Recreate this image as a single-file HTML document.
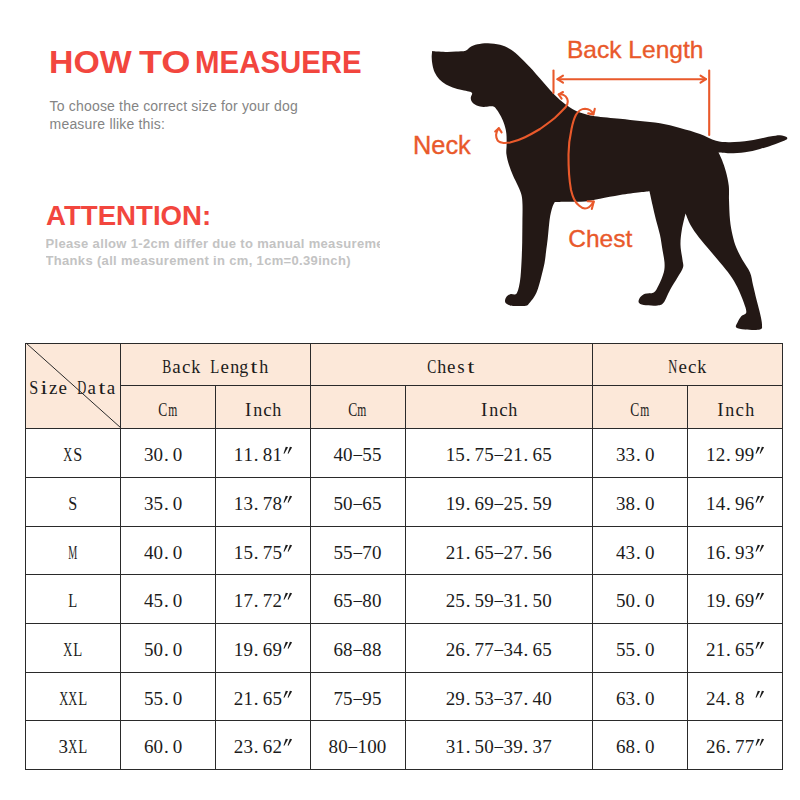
<!DOCTYPE html>
<html>
<head>
<meta charset="utf-8">
<title>How to measure - size chart</title>
<style>
html,body{margin:0;padding:0;background:#fff;}
body{width:800px;height:800px;position:relative;overflow:hidden;font-family:"Liberation Sans",sans-serif;}
.abs{position:absolute;white-space:nowrap;transform-origin:0 0;}
#t1{left:0;top:41.6px;font-size:31.5px;line-height:40px;font-weight:bold;color:#f2463e;}
#t1 span{position:absolute;top:0;transform-origin:0 0;}
#t2{left:49.6px;top:98.4px;font-size:14px;line-height:17.3px;color:#848484;letter-spacing:0.18px;}
#t3{left:46.4px;top:200.4px;font-size:27.3px;line-height:32px;font-weight:bold;color:#f2463e;transform:scaleX(1.012);}
#t4{left:45.5px;top:234.75px;font-size:13px;line-height:17.5px;font-weight:bold;color:#c3c3c3;width:334px;overflow:hidden;letter-spacing:0.33px;}
.lbl{color:#e9592b;-webkit-text-stroke:0.35px #e9592b;}
#dog{position:absolute;left:0;top:0;}
/* table */
.hf{position:absolute;background:#fce8d9;}
.hl{position:absolute;height:1px;background:#2a2a2a;}
.vl{position:absolute;width:1px;background:#2a2a2a;}
.diag{position:absolute;overflow:visible;}
.t{position:absolute;height:22px;line-height:22px;font-family:"Liberation Serif",serif;font-size:19px;color:#1c1c1c;white-space:nowrap;}
.c{display:inline-flex;justify-content:center;width:9.67px;font-style:normal;}
.q{height:22px;vertical-align:top;}
.p{justify-content:flex-start;padding-left:0.8px;width:8.87px;}
</style>
</head>
<body>
<div id="t1" class="abs"><span style="left:49px;transform:scaleX(1.073)">HOW</span><span style="left:139px;transform:scaleX(1.193)">TO</span><span style="left:195px;transform:scaleX(0.934)">MEASUERE</span></div>
<div id="t2" class="abs">To choose the correct size for your dog<br>measure llike this:</div>
<div id="t3" class="abs">ATTENTION:</div>
<div id="t4" class="abs">Please allow 1-2cm differ due to manual measurement<br>Thanks (all measurement in cm, 1cm=0.39inch)</div>

<svg id="dog" width="800" height="340" viewBox="0 0 800 340">
<path d="M432.20,50.90 C432.20,50.90 436.45,51.40 439.00,51.60 C441.55,51.80 444.67,52.10 447.50,52.10 C450.33,52.10 453.00,51.83 456.00,51.60 C459.00,51.38 463.17,51.48 465.50,50.75 C467.83,50.02 468.00,48.28 470.00,47.20 C472.00,46.12 474.50,44.96 477.50,44.30 C480.50,43.64 484.25,43.17 488.00,43.25 C491.75,43.33 496.50,43.88 500.00,44.75 C503.50,45.62 506.00,46.75 509.00,48.50 C512.00,50.25 514.50,52.12 518.00,55.25 C521.50,58.38 526.33,63.38 530.00,67.25 C533.67,71.12 536.67,74.71 540.00,78.50 C543.33,82.29 546.67,86.42 550.00,90.00 C553.33,93.58 556.67,97.08 560.00,100.00 C563.33,102.92 566.67,105.42 570.00,107.50 C573.33,109.58 575.83,111.04 580.00,112.50 C584.17,113.96 588.33,115.21 595.00,116.25 C601.67,117.29 612.50,117.96 620.00,118.75 C627.50,119.54 633.33,120.24 640.00,121.00 C646.67,121.76 653.33,122.13 660.00,123.30 C666.67,124.47 673.33,126.22 680.00,128.00 C686.67,129.78 694.00,131.87 700.00,134.00 C706.00,136.13 711.00,139.43 716.00,140.80 C721.00,142.17 724.33,142.23 730.00,142.20 C735.67,142.17 743.33,141.53 750.00,140.60 C756.67,139.67 765.00,137.50 770.00,136.60 C775.00,135.70 777.25,135.13 780.00,135.20 C782.75,135.27 785.50,136.23 786.50,137.00 C787.50,137.77 787.92,138.60 786.00,139.80 C784.08,141.00 779.33,142.67 775.00,144.20 C770.67,145.73 765.00,147.65 760.00,149.00 C755.00,150.35 750.00,151.58 745.00,152.30 C740.00,153.02 734.42,153.25 730.00,153.30 C725.58,153.35 718.50,152.60 718.50,152.60 C718.50,152.60 720.75,156.77 722.00,160.00 C723.25,163.23 724.87,167.67 726.00,172.00 C727.13,176.33 728.30,181.33 728.80,186.00 C729.30,190.67 728.80,194.33 729.00,200.00 C729.20,205.67 729.42,214.17 730.00,220.00 C730.58,225.83 731.46,230.42 732.50,235.00 C733.54,239.58 734.58,243.33 736.25,247.50 C737.92,251.67 740.21,255.83 742.50,260.00 C744.79,264.17 748.25,268.33 750.00,272.50 C751.75,276.67 751.90,280.42 753.00,285.00 C754.10,289.58 755.37,295.00 756.60,300.00 C757.83,305.00 759.50,310.83 760.40,315.00 C761.30,319.17 762.07,322.58 762.00,325.00 C761.93,327.42 762.83,328.75 760.00,329.50 C757.17,330.25 748.96,329.83 745.00,329.50 C741.04,329.17 737.50,328.67 736.25,327.50 C735.00,326.33 736.67,324.38 737.50,322.50 C738.33,320.62 739.79,317.92 741.25,316.25 C742.71,314.58 745.83,314.79 746.25,312.50 C746.67,310.21 745.21,306.67 743.75,302.50 C742.29,298.33 739.79,292.08 737.50,287.50 C735.21,282.92 732.92,279.17 730.00,275.00 C727.08,270.83 723.42,266.67 720.00,262.50 C716.58,258.33 713.00,254.17 709.50,250.00 C706.00,245.83 702.17,241.67 699.00,237.50 C695.83,233.33 692.73,229.00 690.50,225.00 C688.27,221.00 685.60,213.50 685.60,213.50 C685.60,213.50 682.65,224.75 681.80,230.00 C680.95,235.25 680.38,240.00 680.50,245.00 C680.62,250.00 682.08,256.25 682.50,260.00 C682.92,263.75 683.83,264.58 683.00,267.50 C682.17,270.42 679.67,273.75 677.50,277.50 C675.33,281.25 672.29,285.83 670.00,290.00 C667.71,294.17 665.83,299.92 663.75,302.50 C661.67,305.08 660.83,305.08 657.50,305.50 C654.17,305.92 646.88,305.50 643.75,305.00 C640.62,304.50 639.38,303.75 638.75,302.50 C638.12,301.25 638.96,298.96 640.00,297.50 C641.04,296.04 642.71,294.58 645.00,293.75 C647.29,292.92 651.46,293.96 653.75,292.50 C656.04,291.04 657.08,288.33 658.75,285.00 C660.42,281.67 662.79,276.25 663.75,272.50 C664.71,268.75 664.71,266.25 664.50,262.50 C664.29,258.75 663.25,254.58 662.50,250.00 C661.75,245.42 661.08,240.00 660.00,235.00 C658.92,230.00 657.25,225.00 656.00,220.00 C654.75,215.00 653.58,209.80 652.50,205.00 C651.42,200.20 649.50,191.20 649.50,191.20 C649.50,191.20 644.92,191.67 640.00,192.30 C635.08,192.93 626.67,193.93 620.00,195.00 C613.33,196.07 605.83,197.68 600.00,198.75 C594.17,199.82 590.42,200.89 585.00,201.40 C579.58,201.91 572.53,201.70 567.50,201.80 C562.47,201.90 554.80,202.00 554.80,202.00 C554.80,202.00 553.30,204.50 552.60,206.50 C551.90,208.50 551.15,211.33 550.60,214.00 C550.05,216.67 549.78,218.37 549.30,222.50 C548.82,226.63 548.25,233.88 547.70,238.80 C547.15,243.72 546.53,247.93 546.00,252.00 C545.47,256.07 545.40,258.63 544.50,263.20 C543.60,267.77 541.82,274.80 540.60,279.40 C539.38,284.00 538.32,287.82 537.20,290.80 C536.08,293.78 535.27,295.18 533.90,297.30 C532.53,299.42 530.35,302.08 529.00,303.50 C527.65,304.92 528.13,305.38 525.80,305.80 C523.47,306.22 517.72,306.10 515.00,306.00 C512.28,305.90 511.13,305.83 509.50,305.20 C507.87,304.57 505.75,303.52 505.20,302.20 C504.65,300.88 505.35,298.63 506.20,297.30 C507.05,295.97 508.57,294.85 510.30,294.20 C512.03,293.55 514.98,295.60 516.60,293.40 C518.22,291.20 519.18,286.23 520.00,281.00 C520.82,275.77 521.13,268.42 521.50,262.00 C521.87,255.58 522.05,249.08 522.20,242.50 C522.35,235.92 522.35,228.75 522.40,222.50 C522.45,216.25 522.65,209.58 522.50,205.00 C522.35,200.42 522.25,198.17 521.50,195.00 C520.75,191.83 519.42,189.25 518.00,186.00 C516.58,182.75 514.50,179.00 513.00,175.50 C511.50,172.00 510.10,168.58 509.00,165.00 C507.90,161.42 506.80,157.33 506.40,154.00 C506.00,150.67 506.60,148.33 506.60,145.00 C506.60,141.67 506.75,137.33 506.40,134.00 C506.05,130.67 505.40,127.92 504.50,125.00 C503.60,122.08 502.25,119.00 501.00,116.50 C499.75,114.00 498.17,111.63 497.00,110.00 C495.83,108.37 495.25,107.32 494.00,106.70 C492.75,106.08 491.25,106.25 489.50,106.30 C487.75,106.35 485.62,107.13 483.50,107.00 C481.38,106.87 478.62,106.28 476.75,105.50 C474.88,104.72 473.25,103.55 472.25,102.30 C471.25,101.05 470.76,99.47 470.75,98.00 C470.74,96.53 472.32,94.55 472.20,93.50 C472.07,92.45 471.37,92.20 470.00,91.70 C468.63,91.20 466.50,91.08 464.00,90.50 C461.50,89.92 458.00,89.25 455.00,88.25 C452.00,87.25 448.62,86.00 446.00,84.50 C443.38,83.00 441.12,81.25 439.25,79.25 C437.38,77.25 435.88,74.88 434.75,72.50 C433.62,70.12 433.01,67.50 432.50,65.00 C431.99,62.50 431.75,59.85 431.70,57.50 C431.65,55.15 432.20,50.90 432.20,50.90Z" fill="#231815"/>
<g fill="none" stroke="#e9592b" stroke-width="2.1" stroke-linecap="round" stroke-linejoin="round">
<path d="M553.5,70.5V93"/>
<path d="M709.2,70.5V135"/>
<path d="M557.5,79.2H706"/>
<path d="M563,75.7L557.5,79.2L563,82.7"/>
<path d="M700.5,75.7L706,79.2L700.5,82.7"/>
<path d="M558.8,94.5C561.5,93.6 565.5,95 567.2,98.8 C568.4,102 567.4,105 565.5,107.3 C562,111 559,114 555,117.8 C550,122 545,125.5 540,129 C535,132 530,134.8 525,137.2 C520,139.6 515,141.4 510,142.5 C507,143 504.5,143.2 502.5,142.8 C499.5,142.2 497.6,141 497.2,139.5 C496.2,137.6 496,136 496.2,134.2 C496.6,132 497.6,130 498.7,128.3"/>
<path d="M495.2,131.6L498.8,128.2L501.6,132.4"/>
<path d="M563,92L558.7,94.5L561.6,98.6"/>
<path d="M593.3,114.2C592.2,111.6 589.5,109 585,108.8 C581,108.8 578,111.5 576,114.8 C574,118.5 572.5,124 571.5,129 C569.5,138 568.6,146 568.5,154.5 C568.4,168 569.2,180 571,190 C572,194 573,197 574,199 C575.5,202 577,204 579,205.5 C581,207.4 583,208.4 585,208.5 C588,208.5 591,206 593.6,201.7"/>
<path d="M587.6,201.2L593.8,201.5L591.8,209"/>
<path d="M588.2,113.4L593.4,114.4L594.8,108.8"/>
</g>

</svg>
<div id="l1" class="abs lbl" style="left:566.5px;top:34px;font-size:24px;line-height:32px;transform:scaleX(1.022)">Back Length</div>
<div id="l2" class="abs lbl" style="left:412.8px;top:128.8px;font-size:25px;line-height:32px;transform:scaleX(1.015)">Neck</div>
<div id="l3" class="abs lbl" style="left:568.2px;top:222.5px;font-size:24.5px;line-height:32px;">Chest</div>

<div class="hf" style="left:25.5px;top:343.0px;width:757.0px;height:85.0px"></div>
<div class="hl" style="left:25.0px;top:342.5px;width:758.0px"></div>
<div class="hl" style="left:120.0px;top:385.0px;width:663.0px"></div>
<div class="hl" style="left:25.0px;top:427.5px;width:758.0px"></div>
<div class="hl" style="left:25.0px;top:476.5px;width:758.0px"></div>
<div class="hl" style="left:25.0px;top:525.5px;width:758.0px"></div>
<div class="hl" style="left:25.0px;top:573.5px;width:758.0px"></div>
<div class="hl" style="left:25.0px;top:622.5px;width:758.0px"></div>
<div class="hl" style="left:25.0px;top:671.5px;width:758.0px"></div>
<div class="hl" style="left:25.0px;top:720.0px;width:758.0px"></div>
<div class="hl" style="left:25.0px;top:768.5px;width:758.0px"></div>
<div class="vl" style="left:25.0px;top:342.5px;height:427.0px"></div>
<div class="vl" style="left:120.0px;top:342.5px;height:427.0px"></div>
<div class="vl" style="left:215.0px;top:385.0px;height:384.5px"></div>
<div class="vl" style="left:309.5px;top:342.5px;height:427.0px"></div>
<div class="vl" style="left:404.5px;top:385.0px;height:384.5px"></div>
<div class="vl" style="left:592.0px;top:342.5px;height:427.0px"></div>
<div class="vl" style="left:687.0px;top:385.0px;height:384.5px"></div>
<div class="vl" style="left:782.0px;top:342.5px;height:427.0px"></div>
<svg class="diag" style="left:25.5px;top:343.0px" width="95.0" height="85.0"><line x1="0" y1="0" x2="95.0" y2="85.0" stroke="#2a2a2a" stroke-width="1"/></svg>
<div class="t" style="left:28.98px;top:377.00px;width:88.03px"><i class="c" style="transform:scaleX(0.852)">S</i><i class="c" style="transform:scaleX(1.3)">i</i><i class="c">z</i><i class="c">e</i><i class="c">&nbsp;</i><i class="c" style="transform:scaleX(0.656)">D</i><i class="c">a</i><i class="c" style="transform:scaleX(1.3)">t</i><i class="c">a</i></div>
<div class="t" style="left:162.06px;top:355.75px;width:107.37px"><i class="c" style="transform:scaleX(0.710)">B</i><i class="c">a</i><i class="c">c</i><i class="c" style="transform:scaleX(0.947)">k</i><i class="c">&nbsp;</i><i class="c" style="transform:scaleX(0.775)">L</i><i class="c">e</i><i class="c" style="transform:scaleX(0.947)">n</i><i class="c" style="transform:scaleX(0.947)">g</i><i class="c" style="transform:scaleX(1.3)">t</i><i class="c" style="transform:scaleX(0.947)">h</i></div>
<div class="t" style="left:427.07px;top:355.75px;width:49.35px"><i class="c" style="transform:scaleX(0.710)">C</i><i class="c" style="transform:scaleX(0.947)">h</i><i class="c">e</i><i class="c">s</i><i class="c" style="transform:scaleX(1.3)">t</i></div>
<div class="t" style="left:668.16px;top:355.75px;width:39.68px"><i class="c" style="transform:scaleX(0.656)">N</i><i class="c">e</i><i class="c">c</i><i class="c" style="transform:scaleX(0.947)">k</i></div>
<div class="t" style="left:158.33px;top:398.95px;width:20.34px"><i class="c" style="transform:scaleX(0.710)">C</i><i class="c" style="transform:scaleX(0.609)">m</i></div>
<div class="t" style="left:243.41px;top:398.95px;width:39.68px"><i class="c">I</i><i class="c" style="transform:scaleX(0.947)">n</i><i class="c">c</i><i class="c" style="transform:scaleX(0.947)">h</i></div>
<div class="t" style="left:347.83px;top:398.95px;width:20.34px"><i class="c" style="transform:scaleX(0.710)">C</i><i class="c" style="transform:scaleX(0.609)">m</i></div>
<div class="t" style="left:479.41px;top:398.95px;width:39.68px"><i class="c">I</i><i class="c" style="transform:scaleX(0.947)">n</i><i class="c">c</i><i class="c" style="transform:scaleX(0.947)">h</i></div>
<div class="t" style="left:630.33px;top:398.95px;width:20.34px"><i class="c" style="transform:scaleX(0.710)">C</i><i class="c" style="transform:scaleX(0.609)">m</i></div>
<div class="t" style="left:715.66px;top:398.95px;width:39.68px"><i class="c">I</i><i class="c" style="transform:scaleX(0.947)">n</i><i class="c">c</i><i class="c" style="transform:scaleX(0.947)">h</i></div>
<div class="t" style="left:63.33px;top:444.00px;width:20.34px"><i class="c" style="transform:scaleX(0.656)">X</i><i class="c" style="transform:scaleX(0.852)">S</i></div>
<div class="t" style="left:143.82px;top:444.00px;width:49.35px"><i class="c">3</i><i class="c">0</i><i class="c p">.</i><i class="c">0</i><i class="c">&nbsp;</i></div>
<div class="t" style="left:233.74px;top:444.00px;width:59.02px"><i class="c">1</i><i class="c">1</i><i class="c p">.</i><i class="c">8</i><i class="c">1</i><i class="c q"><svg width="9.67" height="22" viewBox="0 0 9.67 22"><path d="M3.8,2.7L6.1,3.3L2.3,9.7L1.5,9.4Z M7.9,2.7L10.2,3.3L6.4,9.7L5.6,9.4Z" fill="#1c1c1c"/></svg></i></div>
<div class="t" style="left:333.32px;top:444.00px;width:49.35px"><i class="c">4</i><i class="c">0</i><i class="c" style="transform:translateY(-1px) scaleX(0.9)">&#8211;</i><i class="c">5</i><i class="c">5</i></div>
<div class="t" style="left:445.56px;top:444.00px;width:107.37px"><i class="c">1</i><i class="c">5</i><i class="c p">.</i><i class="c">7</i><i class="c">5</i><i class="c" style="transform:translateY(-1px) scaleX(0.9)">&#8211;</i><i class="c">2</i><i class="c">1</i><i class="c p">.</i><i class="c">6</i><i class="c">5</i></div>
<div class="t" style="left:615.83px;top:444.00px;width:49.35px"><i class="c">3</i><i class="c">3</i><i class="c p">.</i><i class="c">0</i><i class="c">&nbsp;</i></div>
<div class="t" style="left:705.99px;top:444.00px;width:59.02px"><i class="c">1</i><i class="c">2</i><i class="c p">.</i><i class="c">9</i><i class="c">9</i><i class="c q"><svg width="9.67" height="22" viewBox="0 0 9.67 22"><path d="M3.8,2.7L6.1,3.3L2.3,9.7L1.5,9.4Z M7.9,2.7L10.2,3.3L6.4,9.7L5.6,9.4Z" fill="#1c1c1c"/></svg></i></div>
<div class="t" style="left:68.17px;top:493.00px;width:10.67px"><i class="c" style="transform:scaleX(0.852)">S</i></div>
<div class="t" style="left:143.82px;top:493.00px;width:49.35px"><i class="c">3</i><i class="c">5</i><i class="c p">.</i><i class="c">0</i><i class="c">&nbsp;</i></div>
<div class="t" style="left:233.74px;top:493.00px;width:59.02px"><i class="c">1</i><i class="c">3</i><i class="c p">.</i><i class="c">7</i><i class="c">8</i><i class="c q"><svg width="9.67" height="22" viewBox="0 0 9.67 22"><path d="M3.8,2.7L6.1,3.3L2.3,9.7L1.5,9.4Z M7.9,2.7L10.2,3.3L6.4,9.7L5.6,9.4Z" fill="#1c1c1c"/></svg></i></div>
<div class="t" style="left:333.32px;top:493.00px;width:49.35px"><i class="c">5</i><i class="c">0</i><i class="c" style="transform:translateY(-1px) scaleX(0.9)">&#8211;</i><i class="c">6</i><i class="c">5</i></div>
<div class="t" style="left:445.56px;top:493.00px;width:107.37px"><i class="c">1</i><i class="c">9</i><i class="c p">.</i><i class="c">6</i><i class="c">9</i><i class="c" style="transform:translateY(-1px) scaleX(0.9)">&#8211;</i><i class="c">2</i><i class="c">5</i><i class="c p">.</i><i class="c">5</i><i class="c">9</i></div>
<div class="t" style="left:615.83px;top:493.00px;width:49.35px"><i class="c">3</i><i class="c">8</i><i class="c p">.</i><i class="c">0</i><i class="c">&nbsp;</i></div>
<div class="t" style="left:705.99px;top:493.00px;width:59.02px"><i class="c">1</i><i class="c">4</i><i class="c p">.</i><i class="c">9</i><i class="c">6</i><i class="c q"><svg width="9.67" height="22" viewBox="0 0 9.67 22"><path d="M3.8,2.7L6.1,3.3L2.3,9.7L1.5,9.4Z M7.9,2.7L10.2,3.3L6.4,9.7L5.6,9.4Z" fill="#1c1c1c"/></svg></i></div>
<div class="t" style="left:68.17px;top:541.50px;width:10.67px"><i class="c" style="transform:scaleX(0.533)">M</i></div>
<div class="t" style="left:143.82px;top:541.50px;width:49.35px"><i class="c">4</i><i class="c">0</i><i class="c p">.</i><i class="c">0</i><i class="c">&nbsp;</i></div>
<div class="t" style="left:233.74px;top:541.50px;width:59.02px"><i class="c">1</i><i class="c">5</i><i class="c p">.</i><i class="c">7</i><i class="c">5</i><i class="c q"><svg width="9.67" height="22" viewBox="0 0 9.67 22"><path d="M3.8,2.7L6.1,3.3L2.3,9.7L1.5,9.4Z M7.9,2.7L10.2,3.3L6.4,9.7L5.6,9.4Z" fill="#1c1c1c"/></svg></i></div>
<div class="t" style="left:333.32px;top:541.50px;width:49.35px"><i class="c">5</i><i class="c">5</i><i class="c" style="transform:translateY(-1px) scaleX(0.9)">&#8211;</i><i class="c">7</i><i class="c">0</i></div>
<div class="t" style="left:445.56px;top:541.50px;width:107.37px"><i class="c">2</i><i class="c">1</i><i class="c p">.</i><i class="c">6</i><i class="c">5</i><i class="c" style="transform:translateY(-1px) scaleX(0.9)">&#8211;</i><i class="c">2</i><i class="c">7</i><i class="c p">.</i><i class="c">5</i><i class="c">6</i></div>
<div class="t" style="left:615.83px;top:541.50px;width:49.35px"><i class="c">4</i><i class="c">3</i><i class="c p">.</i><i class="c">0</i><i class="c">&nbsp;</i></div>
<div class="t" style="left:705.99px;top:541.50px;width:59.02px"><i class="c">1</i><i class="c">6</i><i class="c p">.</i><i class="c">9</i><i class="c">3</i><i class="c q"><svg width="9.67" height="22" viewBox="0 0 9.67 22"><path d="M3.8,2.7L6.1,3.3L2.3,9.7L1.5,9.4Z M7.9,2.7L10.2,3.3L6.4,9.7L5.6,9.4Z" fill="#1c1c1c"/></svg></i></div>
<div class="t" style="left:68.17px;top:590.00px;width:10.67px"><i class="c" style="transform:scaleX(0.775)">L</i></div>
<div class="t" style="left:143.82px;top:590.00px;width:49.35px"><i class="c">4</i><i class="c">5</i><i class="c p">.</i><i class="c">0</i><i class="c">&nbsp;</i></div>
<div class="t" style="left:233.74px;top:590.00px;width:59.02px"><i class="c">1</i><i class="c">7</i><i class="c p">.</i><i class="c">7</i><i class="c">2</i><i class="c q"><svg width="9.67" height="22" viewBox="0 0 9.67 22"><path d="M3.8,2.7L6.1,3.3L2.3,9.7L1.5,9.4Z M7.9,2.7L10.2,3.3L6.4,9.7L5.6,9.4Z" fill="#1c1c1c"/></svg></i></div>
<div class="t" style="left:333.32px;top:590.00px;width:49.35px"><i class="c">6</i><i class="c">5</i><i class="c" style="transform:translateY(-1px) scaleX(0.9)">&#8211;</i><i class="c">8</i><i class="c">0</i></div>
<div class="t" style="left:445.56px;top:590.00px;width:107.37px"><i class="c">2</i><i class="c">5</i><i class="c p">.</i><i class="c">5</i><i class="c">9</i><i class="c" style="transform:translateY(-1px) scaleX(0.9)">&#8211;</i><i class="c">3</i><i class="c">1</i><i class="c p">.</i><i class="c">5</i><i class="c">0</i></div>
<div class="t" style="left:615.83px;top:590.00px;width:49.35px"><i class="c">5</i><i class="c">0</i><i class="c p">.</i><i class="c">0</i><i class="c">&nbsp;</i></div>
<div class="t" style="left:705.99px;top:590.00px;width:59.02px"><i class="c">1</i><i class="c">9</i><i class="c p">.</i><i class="c">6</i><i class="c">9</i><i class="c q"><svg width="9.67" height="22" viewBox="0 0 9.67 22"><path d="M3.8,2.7L6.1,3.3L2.3,9.7L1.5,9.4Z M7.9,2.7L10.2,3.3L6.4,9.7L5.6,9.4Z" fill="#1c1c1c"/></svg></i></div>
<div class="t" style="left:63.33px;top:639.00px;width:20.34px"><i class="c" style="transform:scaleX(0.656)">X</i><i class="c" style="transform:scaleX(0.775)">L</i></div>
<div class="t" style="left:143.82px;top:639.00px;width:49.35px"><i class="c">5</i><i class="c">0</i><i class="c p">.</i><i class="c">0</i><i class="c">&nbsp;</i></div>
<div class="t" style="left:233.74px;top:639.00px;width:59.02px"><i class="c">1</i><i class="c">9</i><i class="c p">.</i><i class="c">6</i><i class="c">9</i><i class="c q"><svg width="9.67" height="22" viewBox="0 0 9.67 22"><path d="M3.8,2.7L6.1,3.3L2.3,9.7L1.5,9.4Z M7.9,2.7L10.2,3.3L6.4,9.7L5.6,9.4Z" fill="#1c1c1c"/></svg></i></div>
<div class="t" style="left:333.32px;top:639.00px;width:49.35px"><i class="c">6</i><i class="c">8</i><i class="c" style="transform:translateY(-1px) scaleX(0.9)">&#8211;</i><i class="c">8</i><i class="c">8</i></div>
<div class="t" style="left:445.56px;top:639.00px;width:107.37px"><i class="c">2</i><i class="c">6</i><i class="c p">.</i><i class="c">7</i><i class="c">7</i><i class="c" style="transform:translateY(-1px) scaleX(0.9)">&#8211;</i><i class="c">3</i><i class="c">4</i><i class="c p">.</i><i class="c">6</i><i class="c">5</i></div>
<div class="t" style="left:615.83px;top:639.00px;width:49.35px"><i class="c">5</i><i class="c">5</i><i class="c p">.</i><i class="c">0</i><i class="c">&nbsp;</i></div>
<div class="t" style="left:705.99px;top:639.00px;width:59.02px"><i class="c">2</i><i class="c">1</i><i class="c p">.</i><i class="c">6</i><i class="c">5</i><i class="c q"><svg width="9.67" height="22" viewBox="0 0 9.67 22"><path d="M3.8,2.7L6.1,3.3L2.3,9.7L1.5,9.4Z M7.9,2.7L10.2,3.3L6.4,9.7L5.6,9.4Z" fill="#1c1c1c"/></svg></i></div>
<div class="t" style="left:58.50px;top:687.75px;width:30.01px"><i class="c" style="transform:scaleX(0.656)">X</i><i class="c" style="transform:scaleX(0.656)">X</i><i class="c" style="transform:scaleX(0.775)">L</i></div>
<div class="t" style="left:143.82px;top:687.75px;width:49.35px"><i class="c">5</i><i class="c">5</i><i class="c p">.</i><i class="c">0</i><i class="c">&nbsp;</i></div>
<div class="t" style="left:233.74px;top:687.75px;width:59.02px"><i class="c">2</i><i class="c">1</i><i class="c p">.</i><i class="c">6</i><i class="c">5</i><i class="c q"><svg width="9.67" height="22" viewBox="0 0 9.67 22"><path d="M3.8,2.7L6.1,3.3L2.3,9.7L1.5,9.4Z M7.9,2.7L10.2,3.3L6.4,9.7L5.6,9.4Z" fill="#1c1c1c"/></svg></i></div>
<div class="t" style="left:333.32px;top:687.75px;width:49.35px"><i class="c">7</i><i class="c">5</i><i class="c" style="transform:translateY(-1px) scaleX(0.9)">&#8211;</i><i class="c">9</i><i class="c">5</i></div>
<div class="t" style="left:445.56px;top:687.75px;width:107.37px"><i class="c">2</i><i class="c">9</i><i class="c p">.</i><i class="c">5</i><i class="c">3</i><i class="c" style="transform:translateY(-1px) scaleX(0.9)">&#8211;</i><i class="c">3</i><i class="c">7</i><i class="c p">.</i><i class="c">4</i><i class="c">0</i></div>
<div class="t" style="left:615.83px;top:687.75px;width:49.35px"><i class="c">6</i><i class="c">3</i><i class="c p">.</i><i class="c">0</i><i class="c">&nbsp;</i></div>
<div class="t" style="left:705.99px;top:687.75px;width:59.02px"><i class="c">2</i><i class="c">4</i><i class="c p">.</i><i class="c">8</i><i class="c">&nbsp;</i><i class="c q"><svg width="9.67" height="22" viewBox="0 0 9.67 22"><path d="M3.8,2.7L6.1,3.3L2.3,9.7L1.5,9.4Z M7.9,2.7L10.2,3.3L6.4,9.7L5.6,9.4Z" fill="#1c1c1c"/></svg></i></div>
<div class="t" style="left:58.50px;top:736.25px;width:30.01px"><i class="c">3</i><i class="c" style="transform:scaleX(0.656)">X</i><i class="c" style="transform:scaleX(0.775)">L</i></div>
<div class="t" style="left:143.82px;top:736.25px;width:49.35px"><i class="c">6</i><i class="c">0</i><i class="c p">.</i><i class="c">0</i><i class="c">&nbsp;</i></div>
<div class="t" style="left:233.74px;top:736.25px;width:59.02px"><i class="c">2</i><i class="c">3</i><i class="c p">.</i><i class="c">6</i><i class="c">2</i><i class="c q"><svg width="9.67" height="22" viewBox="0 0 9.67 22"><path d="M3.8,2.7L6.1,3.3L2.3,9.7L1.5,9.4Z M7.9,2.7L10.2,3.3L6.4,9.7L5.6,9.4Z" fill="#1c1c1c"/></svg></i></div>
<div class="t" style="left:328.49px;top:736.25px;width:59.02px"><i class="c">8</i><i class="c">0</i><i class="c" style="transform:translateY(-1px) scaleX(0.9)">&#8211;</i><i class="c">1</i><i class="c">0</i><i class="c">0</i></div>
<div class="t" style="left:445.56px;top:736.25px;width:107.37px"><i class="c">3</i><i class="c">1</i><i class="c p">.</i><i class="c">5</i><i class="c">0</i><i class="c" style="transform:translateY(-1px) scaleX(0.9)">&#8211;</i><i class="c">3</i><i class="c">9</i><i class="c p">.</i><i class="c">3</i><i class="c">7</i></div>
<div class="t" style="left:615.83px;top:736.25px;width:49.35px"><i class="c">6</i><i class="c">8</i><i class="c p">.</i><i class="c">0</i><i class="c">&nbsp;</i></div>
<div class="t" style="left:705.99px;top:736.25px;width:59.02px"><i class="c">2</i><i class="c">6</i><i class="c p">.</i><i class="c">7</i><i class="c">7</i><i class="c q"><svg width="9.67" height="22" viewBox="0 0 9.67 22"><path d="M3.8,2.7L6.1,3.3L2.3,9.7L1.5,9.4Z M7.9,2.7L10.2,3.3L6.4,9.7L5.6,9.4Z" fill="#1c1c1c"/></svg></i></div>
</body>
</html>
